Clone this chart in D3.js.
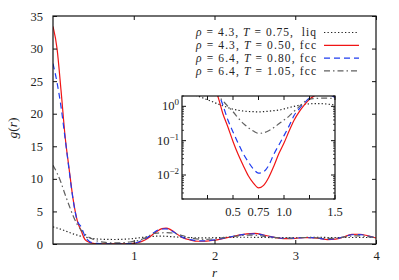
<!DOCTYPE html>
<html><head><meta charset="utf-8">
<script src="https://cdn.jsdelivr.net/npm/d3@7"></script>
<style>
body{margin:0;background:#fff}
svg{display:block}
svg text{font-family:"Liberation Serif","Times New Roman",serif;fill:#222}
</style>
</head><body>
<svg id="c" width="399" height="280" font-family="Liberation Serif, serif"></svg>
<script>
// ---- data ----
const rValues = [0,0.05,0.1,0.15,0.2,0.25,0.3,0.35,0.4,0.45,0.5,0.55,0.6,0.65,0.7,0.75,0.8,0.85,0.9,0.95,1.0,1.05,1.1,1.15,1.2,1.25,1.3,1.35,1.4,1.45,1.5,
  1.6,1.7,1.8,1.9,2.0,2.1,2.2,2.3,2.4,2.5,2.6,2.7,2.8,2.9,3.0,3.1,3.2,3.3,3.4,3.5,3.6,3.7,3.8,3.9,4.0];
const gLiq43 = [2.62,2.45,2.25,2.02,1.78,1.55,1.36,1.18,1.04,0.92,0.83,0.77,0.73,0.71,0.70,0.69,0.70,0.72,0.75,0.78,0.84,0.92,1.00,1.08,1.14,1.18,1.20,1.20,1.18,1.14,1.10,
  1.04,0.98,0.95,0.95,0.97,1.00,1.02,1.04,1.04,1.03,1.01,0.99,0.98,0.98,0.99,1.00,1.01,1.01,1.00,1.00,1.00,1.00,1.00,1.00,1.00];
const gFcc43 = [33.4,30.0,23.5,16.5,11.5,6.8,3.6,2.0,0.62,0.25,0.095,0.040,0.019,0.0095,0.0058,0.0042,0.0050,0.0085,0.018,0.042,0.085,0.19,0.40,0.70,1.10,1.60,2.05,2.35,2.45,2.25,1.85,
  1.0,0.62,0.42,0.45,0.58,0.82,1.08,1.35,1.55,1.62,1.42,1.12,0.90,0.82,0.86,0.98,0.97,0.85,0.68,0.75,1.08,1.48,1.50,1.25,0.92];
const gFcc64a = [27.7,24.8,21.0,16.2,11.3,6.7,3.6,2.6,1.1,0.40,0.18,0.085,0.042,0.024,0.015,0.0113,0.0125,0.019,0.040,0.075,0.14,0.27,0.55,0.85,1.25,1.75,2.15,2.30,2.32,2.15,1.80,
  1.05,0.66,0.48,0.50,0.62,0.85,1.10,1.35,1.52,1.56,1.38,1.10,0.92,0.85,0.88,0.98,0.97,0.86,0.72,0.80,1.08,1.42,1.45,1.22,0.94];
const gFcc64b = [12.1,10.9,9.4,7.6,5.9,4.3,3.0,2.1,1.45,1.0,0.70,0.46,0.32,0.24,0.19,0.163,0.170,0.195,0.24,0.31,0.40,0.52,0.72,0.98,1.35,1.62,1.68,1.72,1.74,1.72,1.65,
  1.30,0.95,0.75,0.72,0.80,0.95,1.10,1.25,1.35,1.35,1.22,1.05,0.93,0.90,0.93,1.00,0.98,0.92,0.85,0.90,1.05,1.22,1.25,1.12,0.98];
const legendRho = ["4.3","4.3","6.4","6.4"];
const legendT = ["0.75","0.50","0.80","1.05"];
const legendPhase = ["liq","fcc","fcc","fcc"];
const xTicks = [1,2,3,4];
const yTicks = [0,5,10,15,20,25,30,35];
const insetXTicks = [0.25,0.5,0.75,1.0,1.25,1.5];
const insetXLabels = ["","0.5","0.75","1.0","","1.5"];
const insetYMajor = [1,0.1,0.01];
const insetYExp = ["0","−1","−2"];

const FONT = "Liberation Serif, Times New Roman, serif";
const styles = [
  {color:"#222", dash:"1.3,2.2", width:1.2},
  {color:"#f01414", dash:null, width:1.2},
  {color:"#1f3cf0", dash:"6,4", width:1.2},
  {color:"#606060", dash:"6,3,1.5,3", width:1.2}
];
const seriesData = [gLiq43, gFcc43, gFcc64a, gFcc64b];

const svg = d3.select("#c");
const L=53, R=376, T=16, B=244;
const x = d3.scaleLinear([0,4],[L,R]);
const y = d3.scaleLinear([0,35],[B,T]);

svg.append("clipPath").attr("id","mainclip").append("rect")
  .attr("x",L).attr("y",T).attr("width",R-L).attr("height",B-T);

const gMain = svg.append("g").attr("clip-path","url(#mainclip)");
seriesData.forEach((s,i)=>{
  const line = d3.line().x((d,j)=>x(rValues[j])).y(d=>y(d)).curve(d3.curveMonotoneX);
  gMain.append("path").attr("d",line(s)).attr("fill","none")
    .attr("stroke",styles[i].color).attr("stroke-width",styles[i].width)
    .attr("stroke-dasharray",styles[i].dash);
});

const fs = "12.5px";
const ax = (g)=>{g.attr("font-family",FONT); g.select(".domain").remove(); g.selectAll("line").attr("stroke","#111"); g.selectAll("text").attr("font-size",fs).attr("font-family",FONT).attr("fill","#222");};
svg.append("g").attr("transform",`translate(${L},0)`)
  .call(d3.axisLeft(y).tickValues(yTicks).tickSize(-4).tickPadding(10).tickFormat(d3.format("d"))).call(ax);
svg.append("g").attr("transform",`translate(${R},0)`)
  .call(d3.axisRight(y).tickValues(yTicks).tickSize(-4).tickFormat("")).call(ax);
svg.append("g").attr("transform",`translate(0,${B})`)
  .call(d3.axisBottom(x).tickValues(xTicks).tickSize(-4).tickPadding(7).tickFormat(d3.format("d"))).call(ax);
svg.append("g").attr("transform",`translate(0,${T})`)
  .call(d3.axisTop(x).tickValues(xTicks).tickSize(-4).tickFormat("")).call(ax);
svg.append("rect").attr("x",L).attr("y",T).attr("width",R-L).attr("height",B-T)
  .attr("fill","none").attr("stroke","#111").attr("stroke-width",1.2);

const yl = svg.append("text").attr("transform","translate(17,128) rotate(-90)")
  .attr("text-anchor","middle").attr("font-size","13.5px").attr("font-family",FONT);
yl.append("tspan").attr("font-style","italic").text("g");
yl.append("tspan").text("(");
yl.append("tspan").attr("font-style","italic").text("r");
yl.append("tspan").text(")");
svg.append("text").attr("x",(L+R)/2).attr("y",277).attr("text-anchor","middle").attr("font-family",FONT)
  .attr("font-size","13px").attr("font-style","italic").text("r");

// legend
const lgX = 316, lgY0 = 32.5, lgDy = 12.8;
legendRho.forEach((rho,i)=>{
  const yy = lgY0 + i*lgDy;
  const t = svg.append("text").attr("x",lgX-120).attr("y",yy+3.8).attr("text-anchor","start").attr("font-family",FONT)
    .attr("font-size","11.5px").attr("textLength",120).attr("lengthAdjust","spacing").style("white-space","pre");
  t.append("tspan").attr("font-style","italic").text("ρ");
  t.append("tspan").text(" = "+rho+", ");
  t.append("tspan").attr("font-style","italic").text("T");
  t.append("tspan").text(" = "+legendT[i]+", "+(legendPhase[i]==="liq"?" ":"")+legendPhase[i]);
  svg.append("line").attr("x1",324).attr("x2",359).attr("y1",yy).attr("y2",yy)
    .attr("stroke",styles[i].color).attr("stroke-width",styles[i].width)
    .attr("stroke-dasharray",styles[i].dash);
});

// ---- inset ----
const iL=182, iR=335, iT=96, iB=199;
const xi = d3.scaleLinear([0,1.5],[iL,iR]);
const yi = d3.scaleLog([0.002,2],[iB,iT]);
svg.append("rect").attr("x",iL).attr("y",iT).attr("width",iR-iL).attr("height",iB-iT).attr("fill","#fff");
svg.append("clipPath").attr("id","insclip").append("rect")
  .attr("x",iL).attr("y",iT).attr("width",iR-iL).attr("height",iB-iT);
const gIn = svg.append("g").attr("clip-path","url(#insclip)");
seriesData.forEach((s,i)=>{
  const line = d3.line().x((d,j)=>xi(rValues[j])).y(d=>yi(d)).curve(d3.curveMonotoneX);
  const pts = s.filter((d,j)=>rValues[j]<=1.7);
  gIn.append("path").attr("d",line(pts)).attr("fill","none")
    .attr("stroke",styles[i].color).attr("stroke-width",styles[i].width)
    .attr("stroke-dasharray",styles[i].dash);
});
const minor = [];
[-3,-2,-1,0].forEach(e=>{for(let k=2;k<=9;k++){const v=k*Math.pow(10,e); if(v>=0.002&&v<=2.0001) minor.push(v);}});
const ig = svg.append("g");
insetXTicks.forEach((v,i)=>{
  ig.append("line").attr("x1",xi(v)).attr("x2",xi(v)).attr("y1",iB).attr("y2",iB-4).attr("stroke","#111");
  ig.append("line").attr("x1",xi(v)).attr("x2",xi(v)).attr("y1",iT).attr("y2",iT+4).attr("stroke","#111");
  if(insetXLabels[i]) ig.append("text").attr("x",xi(v)).attr("y",iB+17).attr("text-anchor","middle").attr("font-family",FONT)
    .attr("font-size","12.5px").text(insetXLabels[i]);
});
insetYMajor.forEach((v,i)=>{
  ig.append("line").attr("x1",iL).attr("x2",iL+4).attr("y1",yi(v)).attr("y2",yi(v)).attr("stroke","#111");
  ig.append("line").attr("x1",iR).attr("x2",iR-4).attr("y1",yi(v)).attr("y2",yi(v)).attr("stroke","#111");
  const t = ig.append("text").attr("x",iL-3).attr("y",yi(v)+4).attr("text-anchor","end").attr("font-size","12.5px").attr("font-family",FONT);
  t.append("tspan").text("10");
  t.append("tspan").attr("dy",-5).attr("font-size","9px").text(insetYExp[i]);
});
minor.forEach(v=>{
  ig.append("line").attr("x1",iL).attr("x2",iL+2).attr("y1",yi(v)).attr("y2",yi(v)).attr("stroke","#111").attr("stroke-width",0.8);
  ig.append("line").attr("x1",iR).attr("x2",iR-2).attr("y1",yi(v)).attr("y2",yi(v)).attr("stroke","#111").attr("stroke-width",0.8);
});
svg.append("rect").attr("x",iL).attr("y",iT).attr("width",iR-iL).attr("height",iB-iT)
  .attr("fill","none").attr("stroke","#111").attr("stroke-width",1.2);
</script>
</body></html>
